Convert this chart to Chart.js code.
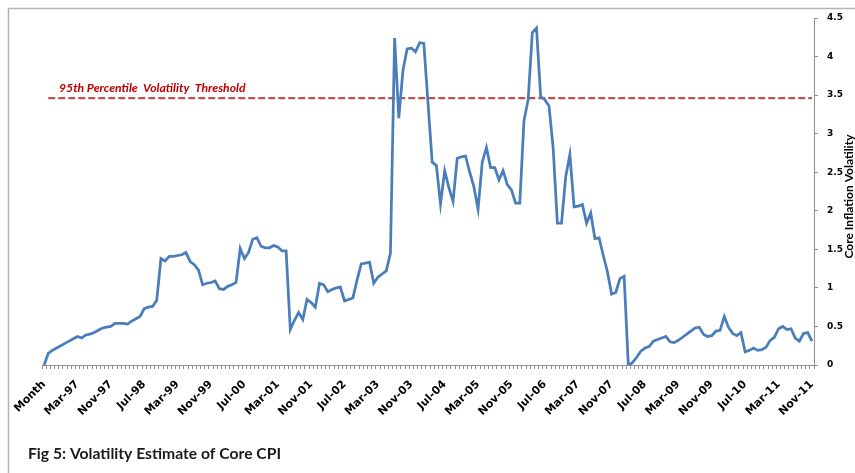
<!DOCTYPE html>
<html lang="en">
<head>
<meta charset="UTF-8" />
<title>Fig 5: Volatility Estimate of Core CPI</title>
<script src="https://cdn.jsdelivr.net/npm/chart.js"></script>
<style>
  html, body { margin: 0; padding: 0; background: #fff; }
  .wrap { position: relative; width: 855px; height: 473px; }
</style>
</head>
<body>
<div class="wrap"><canvas id="volChart"></canvas></div>
<script>
  // first row of the sheet is the header "Month", months run Aug-96 .. Nov-11
  const firstLabel = "Month";
  const monthNames = ["Jan", "Feb", "Mar", "Apr", "May", "Jun", "Jul", "Aug", "Sep", "Oct", "Nov", "Dec"];
  const startYear = 1996;
  const startMonth = 7; // Aug
  const labelEvery = 8;

  const categories = [firstLabel];
  for (let i = 0; i < 184; i++) {
    const m = startMonth + i;
    const yy = String((startYear + Math.floor(m / 12)) % 100).padStart(2, "0");
    categories.push(monthNames[m % 12] + "-" + yy);
  }

  const volatility = [
    0.00, 0.15, 0.19, 0.22, 0.25, 0.28, 0.31, 0.34, 0.37, 0.35,
    0.39, 0.40, 0.42, 0.45, 0.48, 0.49, 0.50, 0.54, 0.54, 0.54,
    0.53, 0.57, 0.60, 0.63, 0.73, 0.75, 0.76, 0.84, 1.38, 1.35,
    1.41, 1.41, 1.42, 1.43, 1.46, 1.34, 1.30, 1.23, 1.04, 1.06,
    1.07, 1.09, 0.99, 0.98, 1.02, 1.04, 1.07, 1.51, 1.38, 1.46,
    1.63, 1.65, 1.54, 1.52, 1.52, 1.55, 1.53, 1.48, 1.48, 0.46,
    0.58, 0.68, 0.59, 0.85, 0.81, 0.75, 1.06, 1.04, 0.95, 0.98,
    1.00, 1.01, 0.83, 0.85, 0.87, 1.10, 1.31, 1.32, 1.33, 1.06,
    1.14, 1.18, 1.22, 1.45, 4.24, 3.20, 3.82, 4.10, 4.11, 4.06,
    4.18, 4.17, 3.40, 2.63, 2.59, 2.09, 2.52, 2.30, 2.12, 2.68,
    2.70, 2.71, 2.50, 2.31, 2.02, 2.63, 2.82, 2.56, 2.56, 2.40,
    2.52, 2.34, 2.27, 2.10, 2.10, 3.17, 3.44, 4.31, 4.37, 3.48,
    3.44, 3.36, 2.81, 1.84, 1.84, 2.44, 2.73, 2.05, 2.06, 2.08,
    1.84, 1.97, 1.64, 1.65, 1.42, 1.21, 0.92, 0.94, 1.12, 1.15,
    0.00, 0.03, 0.10, 0.18, 0.22, 0.24, 0.31, 0.33, 0.35, 0.37,
    0.30, 0.29, 0.32, 0.36, 0.40, 0.44, 0.48, 0.49, 0.40, 0.37,
    0.38, 0.44, 0.45, 0.63, 0.49, 0.41, 0.38, 0.42, 0.17, 0.19,
    0.22, 0.19, 0.20, 0.23, 0.32, 0.36, 0.47, 0.50, 0.46, 0.47,
    0.35, 0.31, 0.41, 0.42, 0.31
  ];

  const thresholdValue = 3.46;
  const thresholdLabel = "95th Percentile  Volatility  Threshold";
  const yTicks = { min: 0, max: 4.5, step: 0.5 };
  const yTitle = "Core Inflation Volatility";
  const caption = "Fig 5: Volatility Estimate of Core CPI";

  // threshold series has no value on the header row
  const thresholdSeries = categories.map((c, i) => (i === 0 ? null : thresholdValue));

  const axisGrey = "#8e8e8e";

  const decorations = {
    id: "decorations",
    afterDraw(chart) {
      const ctx = chart.ctx;
      const area = chart.chartArea;
      const y = chart.scales.y;
      ctx.save();

      // outer frame (only top and left edges are inside the picture)
      ctx.strokeStyle = "#b4b4b4";
      ctx.lineWidth = 1.5;
      ctx.beginPath();
      ctx.moveTo(8.5, 473);
      ctx.lineTo(8.5, 8.5);
      ctx.lineTo(855, 8.5);
      ctx.stroke();

      // threshold text
      ctx.fillStyle = "#c00000";
      ctx.font = "italic bold 12.2px Lato";
      ctx.textAlign = "left";
      ctx.textBaseline = "alphabetic";
      ctx.fillText(thresholdLabel, area.left + 17, y.getPixelForValue(thresholdValue) - 6);

      // y axis title, reading bottom to top, cut by the right edge
      ctx.fillStyle = "#000";
      ctx.font = "bold 12px Lato";
      ctx.translate(853, (area.top + area.bottom) / 2 + 5);
      ctx.rotate(-Math.PI / 2);
      ctx.textAlign = "center";
      ctx.fillText(yTitle, 0, 0);
      ctx.restore();

      // caption
      ctx.save();
      ctx.fillStyle = "#1a1a1a";
      ctx.font = "bold 15.7px Lato";
      ctx.textAlign = "left";
      ctx.textBaseline = "alphabetic";
      ctx.fillText(caption, 28, 459);
      ctx.restore();
    }
  };

  new Chart(document.getElementById("volChart"), {
    type: "line",
    data: {
      labels: categories,
      datasets: [
        {
          label: "Volatility",
          data: volatility,
          borderColor: "#4a7ebb",
          borderWidth: 2.75,
          pointRadius: 0,
          tension: 0,
          fill: false
        },
        {
          label: "Threshold",
          data: thresholdSeries,
          borderColor: "#c0504d",
          borderWidth: 2.25,
          borderDash: [7, 3],
          pointRadius: 0,
          tension: 0,
          fill: false
        }
      ]
    },
    options: {
      responsive: true,
      maintainAspectRatio: false,
      animation: false,
      layout: { padding: { left: 42, top: 18, right: 0, bottom: 0 } },
      plugins: {
        legend: { display: false },
        tooltip: { enabled: false }
      },
      scales: {
        x: {
          type: "category",
          offset: true,
          grid: {
            offset: true,
            drawOnChartArea: false,
            drawTicks: true,
            tickLength: 4,
            color: axisGrey
          },
          border: { display: true, color: axisGrey, width: 1 },
          ticks: {
            autoSkip: false,
            maxRotation: 45,
            minRotation: 45,
            padding: 9,
            color: "#000",
            font: { family: "DejaVu Sans", size: 11, weight: "bold" },
            callback: function (val, idx) {
              return idx % labelEvery === 0 ? this.getLabelForValue(val) : "";
            }
          },
          afterFit(scale) { scale.height = 108; }
        },
        y: {
          position: "right",
          min: yTicks.min,
          max: yTicks.max,
          grid: {
            drawOnChartArea: false,
            drawTicks: true,
            tickLength: 4,
            color: axisGrey
          },
          border: { display: true, color: axisGrey, width: 1 },
          ticks: {
            stepSize: yTicks.step,
            padding: 9,
            color: "#000",
            font: { family: "DejaVu Sans", size: 9, weight: "bold" },
            callback: (v) => String(v)
          },
          afterFit(scale) { scale.width = 41; }
        }
      }
    },
    plugins: [decorations]
  });
</script>
</body>
</html>
